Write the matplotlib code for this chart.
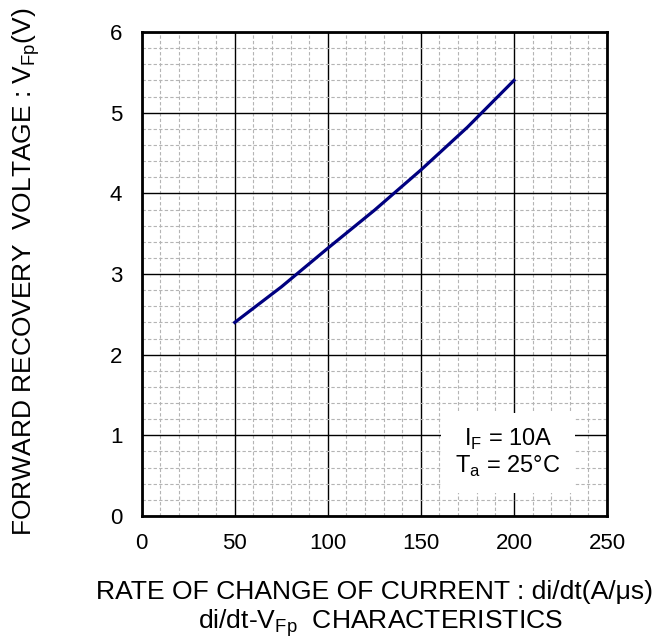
import matplotlib
matplotlib.use('Agg')
import matplotlib.pyplot as plt
from matplotlib.ticker import MultipleLocator

plt.rcParams['font.family'] = ['Liberation Sans', 'DejaVu Sans']

# di/dt (A/us) vs forward recovery voltage (V)
didt = [50, 75, 100, 125, 150, 175, 200]
vfp = [2.4, 2.84, 3.32, 3.79, 4.29, 4.82, 5.4]

fig = plt.figure(figsize=(6.6, 6.41), dpi=100)
ax = fig.add_axes([0.2147, 0.195, 0.705, 0.755])

ax.plot(didt, vfp, color='#000080', linewidth=2.3, zorder=3)

ax.set_xlim(0, 250)
ax.set_ylim(0, 6)
ax.xaxis.set_major_locator(MultipleLocator(50))
ax.yaxis.set_major_locator(MultipleLocator(1))
ax.xaxis.set_minor_locator(MultipleLocator(10))
ax.yaxis.set_minor_locator(MultipleLocator(0.2))
ax.grid(which='minor', color='#b4b4b4', linestyle=(0, (3, 2)), linewidth=0.8)
ax.grid(which='major', color='black', linestyle='-', linewidth=1.0)
ax.tick_params(which='both', length=0)
ax.tick_params(axis='x', labelsize=16, pad=12)
ax.tick_params(axis='y', labelsize=16, pad=14)
for s in ax.spines.values():
    s.set_linewidth(2)

ax.text(0.787, 0.13, "I$_\\mathregular{F}$ = 10A\nT$_\\mathregular{a}$ = 25°C", transform=ax.transAxes,
        ha='center', va='center', fontsize=17, linespacing=1.1,
        bbox=dict(facecolor='white', edgecolor='none', pad=10), zorder=4)

ylab = fig.text(0.0394, 0.5757, "FORWARD RECOVERY  VOLTAGE : V$_\\mathregular{Fp}$(V)", rotation=90,
                ha='center', va='center', fontsize=18)
xl1 = fig.text(0.568, 0.066, "RATE OF CHANGE OF CURRENT : di/dt(A/μs)", ha='center', va='baseline', fontsize=18)
xl2 = fig.text(0.576, 0.019, "di/dt-V$_\\mathregular{Fp}$  CHARACTERISTICS", ha='center', va='baseline', fontsize=18)

# scale label sizes so their lengths match the reference
renderer = fig.canvas.get_renderer()
for t, target, vertical in [(ylab, 530, True), (xl1, 556, False), (xl2, 365, False)]:
    bb = t.get_window_extent(renderer)
    size = bb.height if vertical else bb.width
    t.set_fontsize(t.get_fontsize() * target / size)

fig.savefig("out.png", dpi=100)
